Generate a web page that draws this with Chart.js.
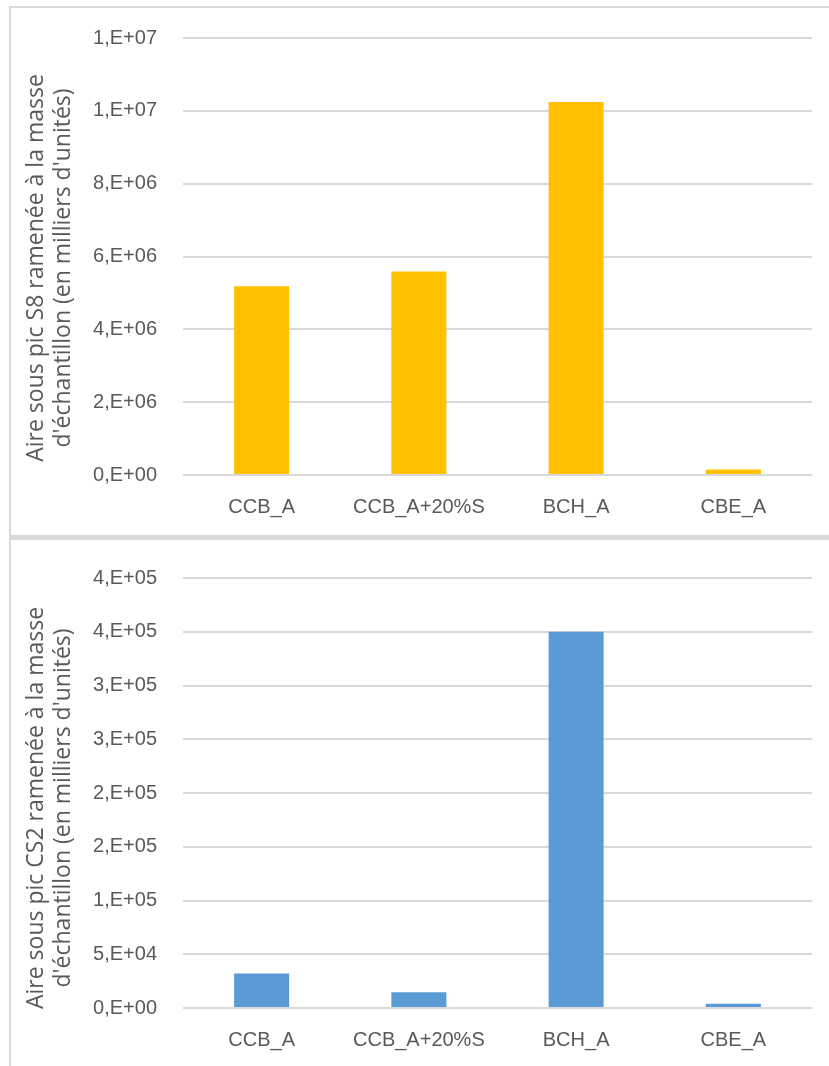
<!DOCTYPE html>
<html>
<head>
<meta charset="utf-8">
<script src="https://cdn.jsdelivr.net/npm/chart.js@4"></script>
<style>
  html, body { margin: 0; padding: 0; background: #ffffff; }
  body { width: 829px; height: 1066px; position: relative; overflow: hidden; }
  .panel { position: absolute; left: 0; width: 829px; }
  .frame { position: absolute; background: #d9d9d9; }
</style>
</head>
<body>
<div class="frame" style="left:9px; top:6px; width:2px; height:1060px;"></div>
<div class="frame" style="left:9px; top:6px; width:820px; height:2px;"></div>
<div class="frame" style="left:9px; top:535px; width:820px; height:5px;"></div>

<div class="panel" style="top:0; height:535px;"><canvas id="chartS8" width="829" height="535"></canvas></div>
<div class="panel" style="top:540px; height:526px;"><canvas id="chartCS2" width="829" height="526"></canvas></div>

<script>
// Samples
const categories = ['CCB_A', 'CCB_A+20%S', 'BCH_A', 'CBE_A'];

// Peak areas normalised by sample mass (thousands of units)
const s8Values  = [5.18e6, 5.59e6, 1.024e7, 1.5e5];
const cs2Values = [3.2e4, 1.47e4, 3.5e5, 4.0e3];

// Axis tick labels, Excel "0,E+00" style, bottom to top
const s8TickLabels  = ['0,E+00', '2,E+06', '4,E+06', '6,E+06', '8,E+06', '1,E+07', '1,E+07'];
const cs2TickLabels = ['0,E+00', '5,E+04', '1,E+05', '2,E+05', '2,E+05', '3,E+05', '3,E+05', '4,E+05', '4,E+05'];

// Two-line vertical axis titles
const s8Title  = ['Aire sous pic S8 ramenée à la masse', "d'échantillon (en milliers d'unités)"];
const cs2Title = ['Aire sous pic CS2 ramenée à la masse', "d'échantillon (en milliers d'unités)"];

const TEXT = '#595959';
const GRID = '#d9d9d9';
const tickFont = { family: "'Liberation Sans', Arial, sans-serif", size: 20 };
const TITLE_FONT = "23px 'Open Sans', sans-serif";

// Draws the rotated two-line axis title, centred on the panel height
const sideTitle = {
  id: 'sideTitle',
  afterDraw(chart, args, opts) {
    const ctx = chart.ctx;
    ctx.save();
    ctx.translate(opts.x, opts.y);
    ctx.rotate(-Math.PI / 2);
    ctx.font = TITLE_FONT;
    ctx.fillStyle = TEXT;
    ctx.textAlign = 'center';
    ctx.textBaseline = 'middle';
    opts.lines.forEach((line, i) => ctx.fillText(line, 0, i * opts.gap));
    ctx.restore();
  }
};

function makeChart(id, values, color, max, step, tickLabels, title, padTop, xHeight) {
  return new Chart(document.getElementById(id), {
    type: 'bar',
    data: {
      labels: categories,
      datasets: [{
        data: values,
        backgroundColor: color,
        borderWidth: 0,
        categoryPercentage: 1,
        barPercentage: 0.35
      }]
    },
    plugins: [sideTitle],
    options: {
      responsive: false,
      animation: false,
      devicePixelRatio: 1,
      layout: { padding: { top: padTop, right: 17, left: 0, bottom: 0 } },
      plugins: {
        legend: { display: false },
        tooltip: { enabled: false },
        sideTitle: { lines: title, x: 36, y: 268, gap: 27 }
      },
      scales: {
        x: {
          grid: { display: false, drawTicks: false },
          border: { display: false },
          ticks: { color: TEXT, font: tickFont, padding: 20, maxRotation: 0 },
          afterFit: s => { s.height = xHeight; }
        },
        y: {
          min: 0,
          max: max,
          grid: { color: GRID, lineWidth: 2, drawTicks: false },
          border: { display: false },
          ticks: {
            stepSize: step,
            color: TEXT,
            font: tickFont,
            padding: 26,
            callback: (v, i) => tickLabels[i]
          },
          afterFit: s => { s.width = 183; }
        }
      }
    }
  });
}

makeChart('chartS8', s8Values, '#FFC000', 1.2e7, 2e6, s8TickLabels, s8Title, 37, 60);
makeChart('chartCS2', cs2Values, '#5B9BD5', 4e5, 5e4, cs2TickLabels, cs2Title, 29, 58);
</script>
</body>
</html>
